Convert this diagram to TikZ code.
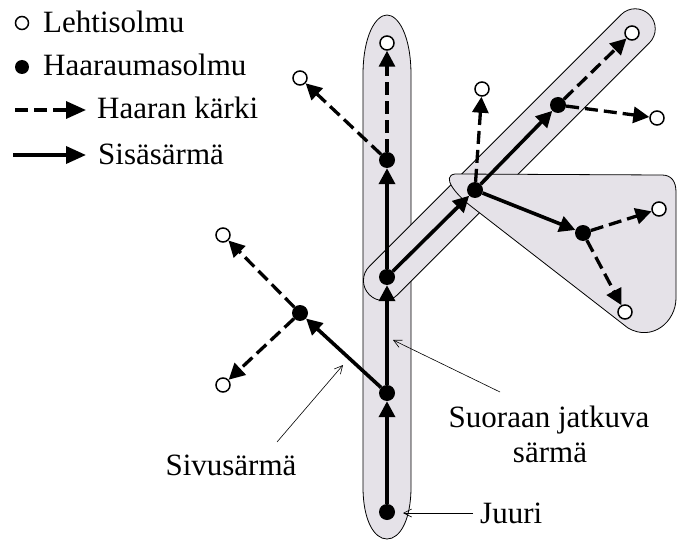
\documentclass[tikz,border=0pt]{standalone}
\usepackage{fontspec}
\setmainfont{Liberation Serif}
\usetikzlibrary{arrows.meta}
\definecolor{regfill}{RGB}{229,226,232}
\begin{document}
\begin{tikzpicture}[x=1pt,y=-1pt,
  inner/.style={circle,fill=black,minimum size=16pt,inner sep=0pt},
  leaf/.style={circle,draw=black,fill=white,line width=1.5pt,minimum size=14pt,inner sep=0pt},
  sis/.style={line width=3.6pt,-{Triangle[length=16pt,width=16pt]}},
  kar/.style={line width=3.3pt,dash pattern=on 13pt off 6pt,-{Triangle[length=16pt,width=16pt]}},
  legarrow/.style={-{Triangle[length=20pt,width=17pt]}},
  region/.style={fill=regfill,draw=black,line width=0.8pt},
  pointer/.style={line width=0.6pt,-{Straight Barb[length=8pt,width=8pt]}},
  lbl/.style={font=\fontsize{31}{36}\selectfont,inner sep=0pt}
]
\useasboundingbox (0,0) rectangle (677,540);

% regions
\path[region] (363,75) .. controls (363,35) and (376,15) .. (387,15) .. controls (398,15) and (411,35) .. (411,75)
  -- (411,487) .. controls (411,520) and (400,539) .. (387,539) .. controls (374,539) and (363,520) .. (363,487) -- cycle;
\path[region,shift={(387,277)},rotate=45,rounded corners=19.9pt] (-25,-20) -- (371,-20) -- (371,20) -- (-25,20) -- cycle;
\path[region] (455,174) -- (662,175) .. controls (671,175) and (676,181) .. (676,192) -- (676,298)
  .. controls (676,322) and (652,342) .. (628,328) -- (472,207) .. controls (455,194) and (441,176) .. (455,174) -- cycle;

% nodes
\node[inner] (r)  at (387,512) {};
\node[inner] (n1) at (387,393) {};
\node[inner] (n2) at (387,277) {};
\node[inner] (n3) at (387,160) {};
\node[leaf]  (lt) at (387,43) {};
\node[leaf]  (la) at (300,78) {};
\node[inner] (b1) at (300,313) {};
\node[leaf]  (lb) at (223,235) {};
\node[leaf]  (lc) at (223,385) {};
\node[inner] (d1) at (475,190) {};
\node[inner] (d2) at (558,105) {};
\node[leaf]  (ld) at (632,33) {};
\node[leaf]  (le) at (657,118) {};
\node[leaf]  (lf) at (482,89) {};
\node[inner] (t1) at (583,233) {};
\node[leaf]  (lg) at (659,209) {};
\node[leaf]  (lh) at (625,312) {};

% edges
\draw[sis] (r) -- (n1);
\draw[sis] (n1) -- (n2);
\draw[sis] (n2) -- (n3);
\draw[kar] (n3) -- (lt);
\draw[kar] (n3) -- (la);
\draw[sis] (n1) -- (b1);
\draw[kar] (b1) -- (lb);
\draw[kar] (b1) -- (lc);
\draw[sis] (n2) -- (d1);
\draw[sis] (d1) -- (d2);
\draw[kar] (d2) -- (ld);
\draw[kar] (d2) -- (le);
\draw[kar] (d1) -- (lf);
\draw[sis] (d1) -- (t1);
\draw[kar] (t1) -- (lg);
\draw[kar] (t1) -- (lh);

% labels with pointers
\node[lbl,anchor=base] (siv) at (231,475) {Sivusärmä};
\coordinate (sivA) at (277,442);
\coordinate (sivB) at (343,365);
\draw[pointer] (sivA) -- (sivB);

\node[lbl,anchor=base] (sj1) at (549,427) {Suoraan jatkuva};
\node[lbl,anchor=base] (sj2) at (550,462) {särmä};
\coordinate (sjA) at (500,392);
\coordinate (sjB) at (393,340);
\draw[pointer] (sjA) -- (sjB);

\node[lbl,anchor=base west] (juu) at (480,523) {Juuri};
\coordinate (juA) at (473,513);
\coordinate (juB) at (403,513);
\draw[pointer] (juA) -- (juB);

% legend
\node[leaf,minimum size=13pt] (g1) at (22,23) {};
\node[lbl,anchor=base west] (g1t) at (43,33) {Lehtisolmu};
\node[inner,minimum size=14pt] (g2) at (22,67) {};
\node[lbl,anchor=base west] (g2t) at (43,76) {Haaraumasolmu};
\coordinate (g3a) at (15,110);
\coordinate (g3b) at (86,110);
\draw[kar,legarrow] (g3a) -- (g3b);
\node[lbl,anchor=base west] (g3t) at (97,119) {Haaran kärki};
\coordinate (g4a) at (13,155);
\coordinate (g4b) at (86,155);
\draw[sis,legarrow] (g4a) -- (g4b);
\node[lbl,anchor=base west] (g4t) at (98,165) {Sisäsärmä};
\end{tikzpicture}
\end{document}
